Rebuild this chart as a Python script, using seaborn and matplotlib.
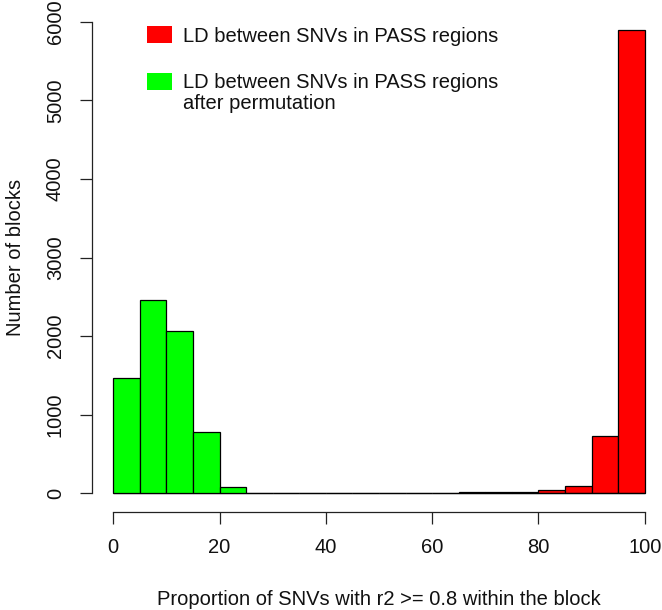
from matplotlib import pyplot as plt
from matplotlib.patches import Rectangle
import seaborn as sns
import numpy as np
import pandas as pd

# bin edges, 5 units wide
breaks = np.arange(0, 105, 5)
mids = breaks[:-1] + 2.5

# counts per bin
pass_counts = [0, 0, 0, 0, 0, 0, 0, 0, 0, 8, 0, 6, 2, 16, 18, 12, 35, 95, 730, 5900]
perm_counts = [1465, 2460, 2060, 780, 80, 8, 3, 2, 0, 0, 0, 0, 0, 0, 0, 0, 0, 0, 0, 0]

labels = ['LD between SNVs in PASS regions',
          'LD between SNVs in PASS regions\nafter permutation']
colors = ['#FF0000', '#00FF00']

df_pass = pd.DataFrame({'prop': mids, 'n': pass_counts})
df_perm = pd.DataFrame({'prop': mids, 'n': perm_counts})

sns.set_style('white')
plt.rcParams['font.family'] = ['Liberation Sans', 'DejaVu Sans']
fs = 14.5

W, H = 662, 610
fig = plt.figure(figsize=(W / 100, H / 100), dpi=100)
ax = fig.add_axes([92 / W, (H - 512) / H, (666 - 92) / W, 509 / H])

sns.histplot(data=df_pass, x='prop', weights='n', binwidth=5, binrange=(0, 100),
             color=colors[0], edgecolor='black', linewidth=0.9, alpha=1, ax=ax)
sns.histplot(data=df_perm, x='prop', weights='n', binwidth=5, binrange=(0, 100),
             color=colors[1], edgecolor='black', linewidth=0.9, alpha=1, ax=ax)

ax.set_xlim(-4, 104)
ax.set_ylim(-240, 6240)

for s in ['top', 'right']:
    ax.spines[s].set_visible(False)
ax.spines['left'].set_bounds(0, 6000)
ax.spines['bottom'].set_bounds(0, 100)
for s in ['left', 'bottom']:
    ax.spines[s].set_color('#222222')
    ax.spines[s].set_linewidth(0.9)

ax.set_xticks(range(0, 101, 20))
ax.set_yticks(range(0, 6001, 1000))
ax.tick_params(axis='both', direction='out', length=8.5, width=0.9,
               color='#222222', labelsize=fs, left=True, bottom=True,
               labelcolor='#111111')
ax.tick_params(axis='x', pad=10)
ax.tick_params(axis='y', pad=11)
plt.setp(ax.get_yticklabels(), rotation=90, va='center')

ax.set_xlabel('Proportion of SNVs with r2 >= 0.8 within the block', fontsize=fs,
              labelpad=24, color='#111111')
ax.set_ylabel('Number of blocks', fontsize=fs, labelpad=15, color='#111111')

# legend in the style of R's legend(), placed in figure pixels
def px(x, y):
    return x / W, 1 - y / H

fig.patches.append(Rectangle(px(147, 43), 25 / W, 17 / H, facecolor=colors[0],
                             edgecolor='none', transform=fig.transFigure, figure=fig))
fig.patches.append(Rectangle(px(147, 90), 25 / W, 17 / H, facecolor=colors[1],
                             edgecolor='none', transform=fig.transFigure, figure=fig))
fig.text(*px(183, 37), labels[0], fontsize=fs, va='center', ha='left', color='#111111')
fig.text(*px(183, 93), labels[1], fontsize=fs, va='center', ha='left',
         linespacing=1.1, color='#111111')

plt.savefig('out.png')
